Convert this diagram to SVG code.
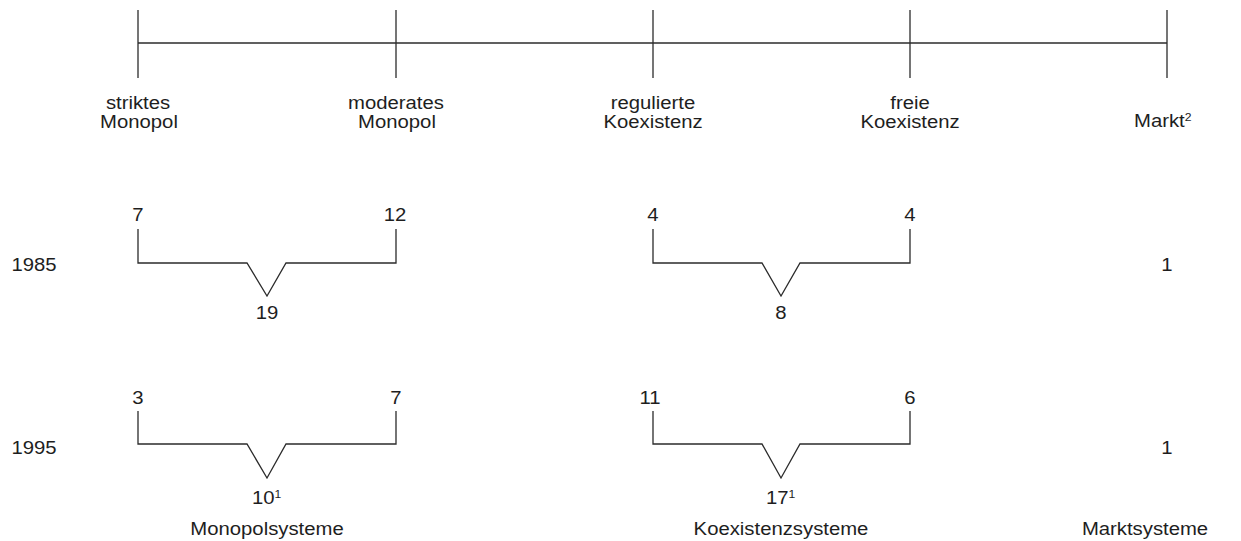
<svg xmlns="http://www.w3.org/2000/svg" width="1241" height="541" viewBox="0 0 1241 541">
<style>
text{font-family:"Liberation Sans",Arial,sans-serif;font-size:17.5px;fill:#1e1e1e;text-anchor:middle}
.ln{stroke:#2b2b2b;stroke-width:1.3;fill:none}
.sup{font-size:10.5px}
.st{text-anchor:start}
</style>
<rect width="1241" height="541" fill="#fff"/>
<g id="connectors">
<line class="ln" x1="138" y1="43" x2="1167" y2="43"/>
<line class="ln" x1="138" y1="10" x2="138" y2="78"/>
<line class="ln" x1="396" y1="10" x2="396" y2="78"/>
<line class="ln" x1="653" y1="10" x2="653" y2="78"/>
<line class="ln" x1="910" y1="10" x2="910" y2="78"/>
<line class="ln" x1="1167" y1="10" x2="1167" y2="78"/>
<path class="ln" d="M138,229 V263 H247 L267,296 L286,263 H396 V229"/>
<path class="ln" d="M653,229 V263 H762 L781,296 L800,263 H910 V229"/>
<path class="ln" d="M138,411 V444 H247 L267,478 L286,444 H396 V411"/>
<path class="ln" d="M653,411 V444 H762 L781,478 L800,444 H910 V411"/>
</g>
<g id="scale-labels">
<text transform="translate(138,109) scale(1.16,1)">striktes</text>
<text transform="translate(139,128) scale(1.16,1)">Monopol</text>
<text transform="translate(396,109) scale(1.16,1)">moderates</text>
<text transform="translate(397,128) scale(1.16,1)">Monopol</text>
<text transform="translate(653,109) scale(1.16,1)">regulierte</text>
<text transform="translate(653,128) scale(1.16,1)">Koexistenz</text>
<text transform="translate(910,109) scale(1.16,1)">freie</text>
<text transform="translate(910,128) scale(1.16,1)">Koexistenz</text>
<text class="st" transform="translate(1134,127) scale(1.16,1)">Markt<tspan class="sup" dy="-6">2</tspan></text>
</g>
<g id="row-1985">
<text transform="translate(34,271) scale(1.16,1)">1985</text>
<text transform="translate(138,221) scale(1.16,1)">7</text>
<text transform="translate(395,221) scale(1.16,1)">12</text>
<text transform="translate(267,319) scale(1.16,1)">19</text>
<text transform="translate(653,221) scale(1.16,1)">4</text>
<text transform="translate(910,221) scale(1.16,1)">4</text>
<text transform="translate(781,319) scale(1.16,1)">8</text>
<text transform="translate(1167,271) scale(1.16,1)">1</text>
</g>
<g id="row-1995">
<text transform="translate(34,454) scale(1.16,1)">1995</text>
<text transform="translate(138,404) scale(1.16,1)">3</text>
<text transform="translate(396,404) scale(1.16,1)">7</text>
<text class="st" transform="translate(252,504) scale(1.16,1)">10<tspan class="sup" dy="-6">1</tspan></text>
<text transform="translate(650,404) scale(1.16,1)">11</text>
<text transform="translate(910,404) scale(1.16,1)">6</text>
<text class="st" transform="translate(766,504) scale(1.16,1)">17<tspan class="sup" dy="-6">1</tspan></text>
<text transform="translate(1167,454) scale(1.16,1)">1</text>
</g>
<g id="categories">
<text transform="translate(267,535) scale(1.16,1)">Monopolsysteme</text>
<text transform="translate(781,535) scale(1.16,1)">Koexistenzsysteme</text>
<text transform="translate(1145,535) scale(1.16,1)">Marktsysteme</text>
</g>
</svg>
